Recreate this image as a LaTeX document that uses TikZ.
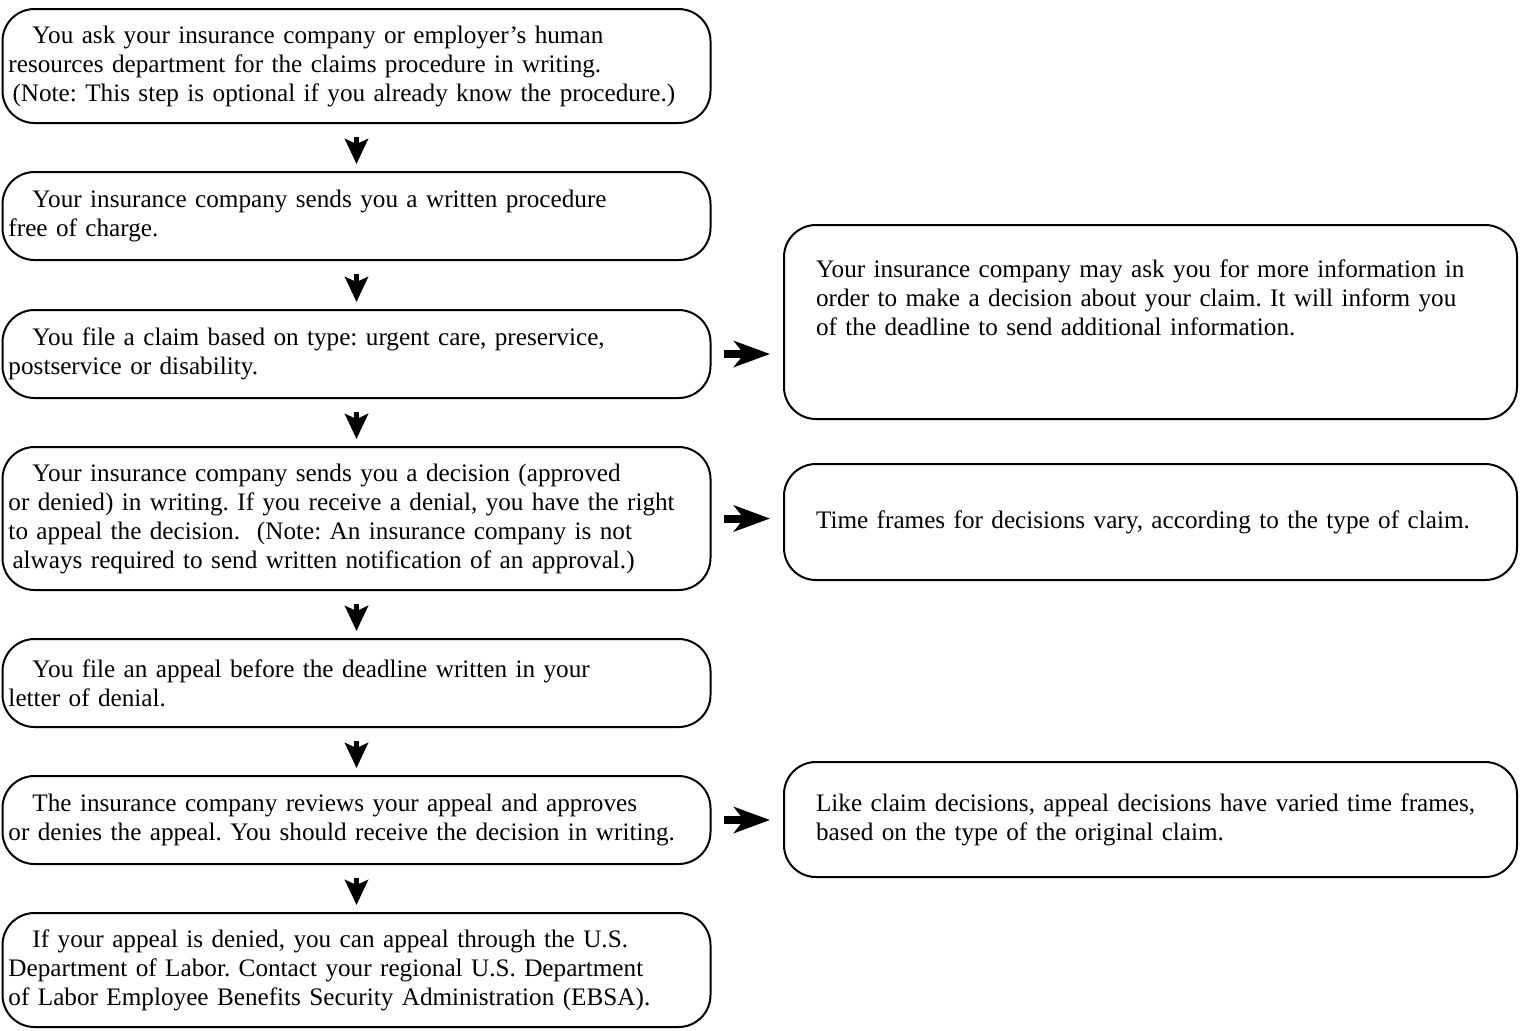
\documentclass[tikz,border=0pt]{standalone}
\usepackage{fontspec}
\setmainfont{Liberation Serif}
\usetikzlibrary{arrows.meta}
\usetikzlibrary{calc}
\frenchspacing

\tikzset{
  stepbox/.style={draw, line width=1pt, rounded corners=16pt, inner xsep=3pt, inner ysep=0pt,
    text width=348pt, align=left, font=\fontsize{12.6}{14.5}\selectfont},
  notebox/.style={draw, line width=1pt, rounded corners=16pt, inner xsep=16pt, inner ysep=0pt,
    text width=334.5pt, align=left, font=\fontsize{12.6}{14.5}\selectfont},
  downarrow/.style={line width=2.5pt, -{Stealth[length=12.5pt,width=11.5pt,inset=2.5pt]},
    shorten <=6.5pt, shorten >=3.5pt},
  sidearrow/.style={line width=4pt, -{Stealth[length=18pt,width=13pt,inset=5pt]},
    shorten <=6pt, shorten >=6.5pt}
}

\begin{document}
\begin{tikzpicture}[x=0.5pt,y=-0.5pt]
\useasboundingbox (0,0) rectangle (1520,1030);
% the steps, left column
\node[stepbox, minimum height=57pt] (ask) at (356.5,66) {\hspace*{12pt}You ask your insurance company or employer's human\\
resources department for the claims procedure in writing.\\
\hspace*{2pt}(Note: This step is optional if you already know the procedure.)};
\node[stepbox, minimum height=44pt] (sends) at (356.5,216) {\hspace*{12pt}Your insurance company sends you a written procedure\\
free of charge.};
\node[stepbox, minimum height=44pt] (claim) at (356.5,354) {\hspace*{12pt}You file a claim based on type: urgent care, preservice,\\
postservice or disability.};
\node[stepbox, minimum height=71.5pt] (decision) at (356.5,518.5) {\hspace*{12pt}Your insurance company sends you a decision (approved\\
or denied) in writing. If you receive a denial, you have the right\\
to appeal the decision.\ \ (Note: An insurance company is not\\
\hspace*{2pt}always required to send written notification of an approval.)};
\node[stepbox, minimum height=44pt] (appeal) at (356.5,683) {\hspace*{12pt}You file an appeal before the deadline written in your\\
letter of denial.};
\node[stepbox, minimum height=44pt] (review) at (356.5,820) {\hspace*{12pt}The insurance company reviews your appeal and approves\\
or denies the appeal. You should receive the decision in writing.};
\node[stepbox, minimum height=57pt] (dol) at (356.5,970) {\hspace*{12pt}If your appeal is denied, you can appeal through the U.S.\\
Department of Labor. Contact your regional U.S. Department\\
of Labor Employee Benefits Security Administration (EBSA).};
% the notes, right column
\node[notebox, minimum height=97pt] (info) at (1150.5,322) {Your insurance company may ask you for more information in\\
order to make a decision about your claim. It will inform you\\
of the deadline to send additional information.\\[10pt]\mbox{}};
\node[notebox, minimum height=58pt] (frames) at (1150.5,522) {Time frames for decisions vary, according to the type of claim.};
\node[notebox, minimum height=57.5pt] (appealtime) at (1150.5,819.5) {Like claim decisions, appeal decisions have varied time frames,\\
based on the type of the original claim.};
% arrows down
\draw[downarrow] (ask) -- (sends);
\draw[downarrow] (sends) -- (claim);
\draw[downarrow] (claim) -- (decision);
\draw[downarrow] (decision) -- (appeal);
\draw[downarrow] (appeal) -- (review);
\draw[downarrow] (review) -- (dol);
% arrows to the side
\draw[sidearrow] (claim.east) -- (claim.east -| info.west);
\draw[sidearrow] (decision.east) -- (decision.east -| frames.west);
\draw[sidearrow] (review.east) -- (review.east -| appealtime.west);
\end{tikzpicture}
\end{document}
